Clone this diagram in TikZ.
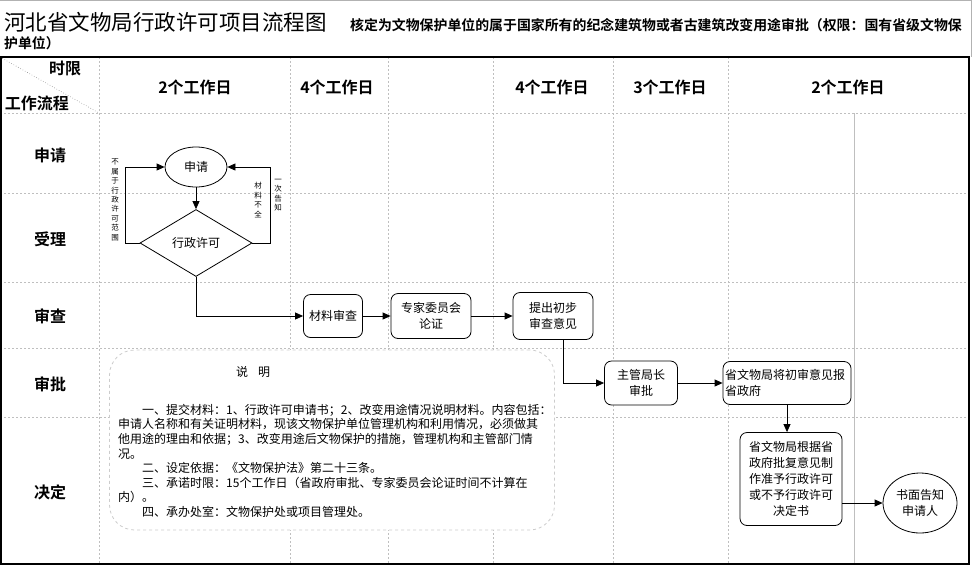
\documentclass[tikz,border=0pt]{standalone}
\usepackage{fontspec}
\setmainfont{Noto Sans CJK SC}[BoldFont={Noto Sans CJK SC Bold}]
\usetikzlibrary{positioning, arrows.meta, shapes.geometric, calc}

\begin{document}
\begin{tikzpicture}[x=1pt, y=-1pt,
		grid/.style={draw=black!25, line width=0.6pt, dash pattern=on 2pt off 2pt},
		box/.style={draw, rounded corners=7pt, fill=white, line width=0.8pt, align=center, inner sep=2pt, font=\fontsize{12}{16}\selectfont},
		arr/.style={-{Triangle[length=8pt, width=7pt]}, line width=0.8pt},
		hdr/.style={font=\fontsize{16}{18}\selectfont\bfseries},
		vlab/.style={align=center, inner sep=0pt, font=\fontsize{7.5}{9.4}\selectfont}]
		\useasboundingbox (0,0) rectangle (973,568);
		\draw[black!30, line width=0.6pt] (0,0.5) -- (971,0.5) -- (971,57);
		\node[anchor=west, inner sep=0pt, font=\fontsize{21.5}{24}\selectfont] (mingcheng) at (4,22) {河北省文物局行政许可项目流程图};
		\node[anchor=west, inner sep=0pt, font=\fontsize{13.9}{16}\selectfont\bfseries] (hezhun) at (350,25) {核定为文物保护单位的属于国家所有的纪念建筑物或者古建筑改变用途审批（权限：国有省级文物保};
		\node[anchor=west, inner sep=0pt, font=\fontsize{13.9}{16}\selectfont\bfseries] (hezhunb) at (4,43) {护单位）};
		
		\foreach \y in {113,193,282,348,417}
		\draw[grid] (0,\y) -- (969,\y);
		\foreach \x in {99,290,388,493,613,728}
		\draw[grid] (\x,57) -- (\x,564);
		\draw[black!25, line width=0.6pt] (854,113) -- (854,564);
		\draw[black!45, line width=0.6pt, dotted] (0,57) -- (99,113);
		\draw[line width=2pt] (1,57) -- (969,57) -- (969,564) -- (1,564) -- cycle;
		
		\node[hdr] (shixian) at (65,68) {时限};
		\node[hdr] (liucheng) at (37,103) {工作流程};
		\node[hdr] (t1) at (195,87) {2个工作日};
		\node[hdr] (t2) at (337,87) {4个工作日};
		\node[hdr] (t3) at (552,87) {4个工作日};
		\node[hdr] (t4) at (670,87) {3个工作日};
		\node[hdr] (t5) at (848,87) {2个工作日};
		\node[hdr] (r1) at (50,155) {申请};
		\node[hdr] (r2) at (50,239) {受理};
		\node[hdr] (r3) at (50,316) {审查};
		\node[hdr] (r4) at (50,384) {审批};
		\node[hdr] (r5) at (50,492) {决定};
		
		\node[draw=black!20, line width=0.8pt, dashed, rounded corners=25pt, fill=white, minimum width=445, minimum height=180] (shuoming) at (332,440) {};
		\node[font=\fontsize{12}{14}\selectfont] (biaoti) at (253,372) {说\hspace{10pt}明};
		\node[anchor=north west, align=left, inner sep=0pt, font=\fontsize{12}{14.6}\selectfont] (neirong) at (118,404) {\hspace*{24pt}一、提交材料：1、行政许可申请书；2、改变用途情况说明材料。内容包括：\\
			申请人名称和有关证明材料，现该文物保护单位管理机构和利用情况，必须做其\\
			他用途的理由和依据；3、改变用途后文物保护的措施，管理机构和主管部门情\\
			况。\\
			\hspace*{24pt}二、设定依据：《文物保护法》第二十三条。\\
			\hspace*{24pt}三、承诺时限：15个工作日（省政府审批、专家委员会论证时间不计算在\\
			内）。\\
			\hspace*{24pt}四、承办处室：文物保护处或项目管理处。};
		
		\node[draw, ellipse, fill=white, line width=0.8pt, minimum width=62, minimum height=40, inner sep=0pt, font=\fontsize{12}{14}\selectfont] (shenqing) at (196,167) {申请};
		\node[draw, diamond, fill=white, line width=0.8pt, minimum width=112, minimum height=67, inner sep=0pt, font=\fontsize{12}{14}\selectfont] (xuke) at (196,243) {行政许可};
		\node[box, minimum width=59, minimum height=43] (cailiao) at (333,316) {材料审查};
		\node[box, minimum width=80, minimum height=45] (zhuanjia) at (431,316) {专家委员会\\论证};
		\node[box, minimum width=80, minimum height=47] (tichu) at (553,316) {提出初步\\审查意见};
		\node[box, minimum width=73, minimum height=44] (zhuguan) at (641,383) {主管局长\\审批};
		\node[box, align=left, text width=124, minimum height=43] (baosheng) at (787,383) {省文物局将初审意见报\\省政府};
		\node[box, minimum width=102, minimum height=93] (jueding) at (791,479) {省文物局根据省\\政府批复意见制\\作准予行政许可\\或不予行政许可\\决定书};
		\node[draw, ellipse, fill=white, line width=0.8pt, minimum width=74, minimum height=60, inner sep=0pt, align=center, font=\fontsize{12}{16}\selectfont] (gaozhi) at (920,503) {书面告知\\申请人};
		
		\node[vlab] (buxu) at (115,200) {不\\属\\于\\行\\政\\许\\可\\范\\围};
		\node[vlab] (buquan) at (258,200) {材\\料\\不\\全};
		\node[vlab] (gaozhiyc) at (278,195) {一\\次\\告\\知};
		
		\draw[arr] (shenqing) -- (xuke);
		\draw[arr] (xuke.west) -- ++(-14,0) |- (shenqing.west);
		\draw[arr] (xuke.east) -- ++(18,0) |- (shenqing.east);
		\draw[arr] (xuke.south) |- (cailiao.west);
		\draw[arr] (cailiao) -- (zhuanjia);
		\draw[arr] (zhuanjia) -- (tichu);
		\draw[arr] ([xshift=10pt]tichu.south) |- (zhuguan.west);
		\draw[arr] (zhuguan) -- (baosheng);
		\draw[arr] (baosheng.south) -- (baosheng.south |- jueding.north);
		\draw[arr] (jueding.east |- gaozhi.west) -- (gaozhi.west);
	\end{tikzpicture}
\end{document}
